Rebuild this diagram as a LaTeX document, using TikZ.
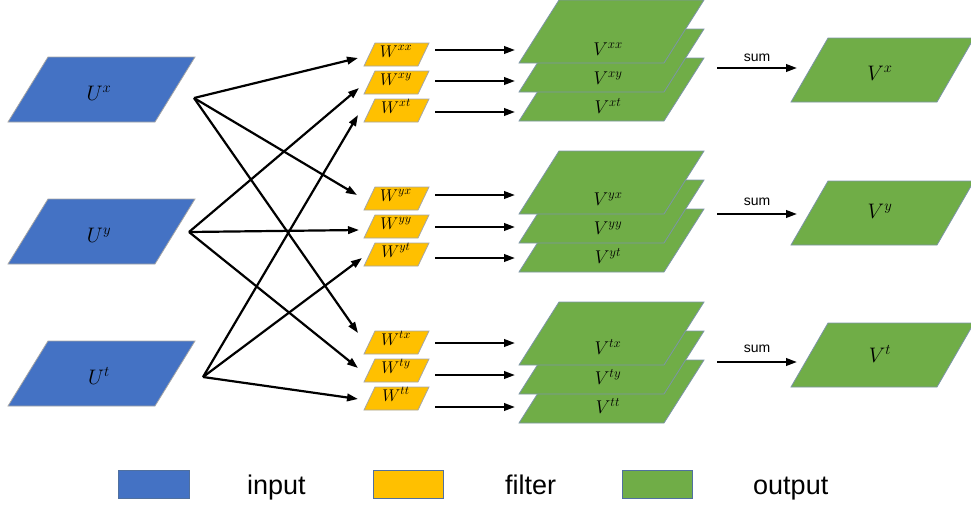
\documentclass[tikz,border=0pt]{standalone}
\usepackage{fix-cm}
\usepackage{fontspec}
\newfontfamily\arialf{Liberation Sans}
\usetikzlibrary{arrows.meta}
\definecolor{inblue}{HTML}{4472C4}
\definecolor{filty}{HTML}{FFC000}
\definecolor{outg}{HTML}{70AD47}
\definecolor{edgegray}{HTML}{A6A6A6}
\definecolor{edgev}{HTML}{7C95A6}
\definecolor{legedge}{HTML}{50709F}
\newcommand\pgm[6]{\filldraw[#6] (#1,#2) -- ++(#3,0) -- ++(#5,-#4) -- ++(-#3,0) -- cycle;}
\begin{document}
\begin{tikzpicture}[x=1pt,y=-1pt,
  upara/.style={fill=inblue,draw=edgegray,line width=0.8pt},
  wpara/.style={fill=filty,draw=edgegray,line width=0.8pt},
  vpara/.style={fill=outg,draw=edgev,line width=0.8pt},
  legbox/.style={draw=legedge,line width=1pt},
  conn/.style={line width=2.2pt,-{Triangle[length=11pt,width=7.5pt]}},
  bigl/.style={inner sep=0pt,anchor=base,font=\fontsize{21}{25}\selectfont},
  vl/.style={inner sep=0pt,anchor=base,font=\fontsize{18.5}{22}\selectfont},
  wl/.style={inner sep=0pt,anchor=base,font=\fontsize{17}{20}\selectfont},
  suml/.style={inner sep=0pt,anchor=base,font=\arialf\fontsize{14}{17}\selectfont},
  legl/.style={inner sep=0pt,anchor=base west,font=\arialf\fontsize{27}{32}\selectfont}]
\useasboundingbox (0,0) rectangle (971,509);

% input planes
\pgm{8}{122}{147}{65}{40}{upara}
\pgm{8}{264}{147}{65}{40}{upara}
\pgm{8}{406}{147}{65}{40}{upara}
\node[bigl] (ux) at (99,100) {$U^x$};
\node[bigl] (uy) at (99,242) {$U^y$};
\node[bigl] (ut) at (99,384) {$U^t$};

% filters
\pgm{364}{66}{54}{23}{11}{wpara}
\pgm{364}{94}{54}{23}{11}{wpara}
\pgm{364}{122}{54}{23}{11}{wpara}
\pgm{364}{210}{54}{23}{11}{wpara}
\pgm{364}{238}{54}{23}{11}{wpara}
\pgm{364}{266}{54}{23}{11}{wpara}
\pgm{364}{354}{54}{23}{11}{wpara}
\pgm{364}{382}{54}{23}{11}{wpara}
\pgm{364}{410}{54}{23}{11}{wpara}
\node[wl] (wxx) at (396,57) {$W^{xx}$};
\node[wl] (wxy) at (396,85) {$W^{xy}$};
\node[wl] (wxt) at (396,113) {$W^{xt}$};
\node[wl] (wyx) at (396,201) {$W^{yx}$};
\node[wl] (wyy) at (396,229) {$W^{yy}$};
\node[wl] (wyt) at (396,257) {$W^{yt}$};
\node[wl] (wtx) at (396,345) {$W^{tx}$};
\node[wl] (wty) at (396,373) {$W^{ty}$};
\node[wl] (wtt) at (396,401) {$W^{tt}$};

% output stacks (bottom layer first)
\pgm{519}{121}{145}{63}{40}{vpara}
\pgm{519}{92}{145}{63}{40}{vpara}
\pgm{519}{63}{145}{63}{40}{vpara}
\pgm{519}{272}{145}{63}{40}{vpara}
\pgm{519}{243}{145}{63}{40}{vpara}
\pgm{519}{214}{145}{63}{40}{vpara}
\pgm{519}{423}{145}{63}{40}{vpara}
\pgm{519}{394}{145}{63}{40}{vpara}
\pgm{519}{365}{145}{63}{40}{vpara}
\node[vl] (vxx) at (608,55) {$V^{xx}$};
\node[vl] (vxy) at (608,84) {$V^{xy}$};
\node[vl] (vxt) at (608,113) {$V^{xt}$};
\node[vl] (vyx) at (608,205) {$V^{yx}$};
\node[vl] (vyy) at (608,234) {$V^{yy}$};
\node[vl] (vyt) at (608,263) {$V^{yt}$};
\node[vl] (vtx) at (608,354) {$V^{tx}$};
\node[vl] (vty) at (608,384) {$V^{ty}$};
\node[vl] (vtt) at (608,413) {$V^{tt}$};

% summed outputs
\pgm{791}{102}{146}{64}{37}{vpara}
\pgm{791}{245}{146}{64}{37}{vpara}
\pgm{791}{387}{146}{64}{37}{vpara}
\node[bigl] (vx) at (880,80) {$V^x$};
\node[bigl] (vy) at (880,218) {$V^y$};
\node[bigl] (vt) at (880,362) {$V^t$};

% connector points
\coordinate (ux-o) at (194,98);
\coordinate (uy-o) at (189,232);
\coordinate (ut-o) at (203,377);
\coordinate (wxx-i) at (358,58);
\coordinate (wxy-i) at (359,88);
\coordinate (wxt-i) at (358,115);
\coordinate (wyx-i) at (357,195);
\coordinate (wyy-i) at (359,230);
\coordinate (wyt-i) at (362,258);
\coordinate (wtx-i) at (358,333);
\coordinate (wty-i) at (358,368);
\coordinate (wtt-i) at (358,399);

\draw[conn] (ux-o) -- (wxx-i);
\draw[conn] (ux-o) -- (wyx-i);
\draw[conn] (ux-o) -- (wtx-i);
\draw[conn] (uy-o) -- (wxy-i);
\draw[conn] (uy-o) -- (wyy-i);
\draw[conn] (uy-o) -- (wty-i);
\draw[conn] (ut-o) -- (wxt-i);
\draw[conn] (ut-o) -- (wyt-i);
\draw[conn] (ut-o) -- (wtt-i);

% filter -> output arrows
\foreach \n/\y in {a/50,b/81,c/112,d/195,e/227,f/258,g/343,h/375,i/407}{
  \coordinate (fo-\n) at (435,\y);
  \coordinate (vi-\n) at (515,\y);
  \draw[conn] (fo-\n) -- (vi-\n);
}

% sum arrows
\foreach \n/\y/\b in {x/68/61,y/214/205,t/362/352}{
  \coordinate (so-\n) at (717,\y);
  \coordinate (si-\n) at (797,\y);
  \draw[conn] (so-\n) -- (si-\n);
  \node[suml] (sum-\n) at (757,\b) {sum};
}

% legend
\filldraw[legbox,fill=inblue] (118,470) rectangle (189,498);
\filldraw[legbox,fill=filty] (373,470) rectangle (443,498);
\filldraw[legbox,fill=outg] (622,470) rectangle (692,498);
\node[legl] (lin) at (247,494) {input};
\node[legl] (lfi) at (505,494) {filter};
\node[legl] (lout) at (753,494) {output};
\end{tikzpicture}
\end{document}
